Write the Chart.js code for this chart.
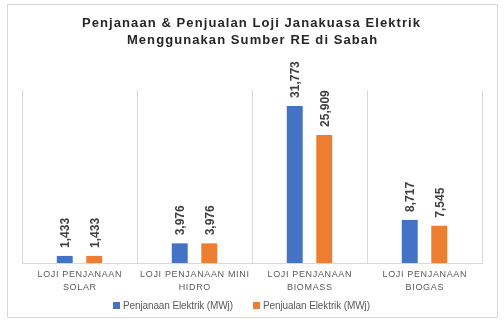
<!DOCTYPE html>
<html>
<head>
<meta charset="utf-8">
<script src="https://cdn.jsdelivr.net/npm/chart.js@4"></script>
<style>
html,body{margin:0;padding:0;background:#fff;}
canvas{display:block;}
</style>
</head>
<body>
<canvas id="c" width="504" height="325"></canvas>
<script>
const titleLines = ["Penjanaan & Penjualan Loji Janakuasa Elektrik", "Menggunakan Sumber RE di Sabah"];
const categories = [["LOJI PENJANAAN","SOLAR"],["LOJI PENJANAAN MINI","HIDRO"],["LOJI PENJANAAN","BIOMASS"],["LOJI PENJANAAN","BIOGAS"]];
const seriesNames = ["Penjanaan Elektrik (MWj)", "Penjualan Elektrik (MWj)"];
const penjanaan = [1433, 3976, 31773, 8717];
const penjualan = [1433, 3976, 25909, 7545];
const yMin = 0;
const yMax = 35000;

const colors = ["#4472C4", "#ED7D31"];

function fitSpacing(ctx, text, target) {
  ctx.letterSpacing = "0px";
  const w = ctx.measureText(text).width;
  return (target - w) / Math.max(1, text.length - 1);
}
function drawSpaced(ctx, text, cx, cy, ls) {
  ctx.letterSpacing = "0px";
  const w = ctx.measureText(text).width + ls * (text.length - 1);
  ctx.letterSpacing = ls + "px";
  ctx.textAlign = "left";
  ctx.fillText(text, cx - w / 2, cy);
  ctx.letterSpacing = "0px";
}

const decor = {
  id: "decor",
  afterDraw(chart) {
    const ctx = chart.ctx;
    const fmt = new Intl.NumberFormat("en-US");
    ctx.save();
    // border
    ctx.strokeStyle = "#d9d9d9";
    ctx.lineWidth = 1;
    ctx.strokeRect(7.5, 4.5, 490, 313);
    // title
    ctx.fillStyle = "#262626";
    ctx.textBaseline = "middle";
    ctx.font = "bold 13px 'Liberation Sans', Arial, sans-serif";
    const tls = fitSpacing(ctx, titleLines[0], 338);
    drawSpaced(ctx, titleLines[0], 251, 23, tls);
    drawSpaced(ctx, titleLines[1], 252, 40, tls);
    // x labels
    const xs = chart.scales.x;
    ctx.fillStyle = "#595959";
    ctx.font = "9px 'Liberation Sans', Arial, sans-serif";
    const xls = fitSpacing(ctx, "LOJI PENJANAAN", 84);
    categories.forEach((lines, i) => {
      const cx = xs.getPixelForValue(i);
      lines.forEach((t, j) => drawSpaced(ctx, t, cx, 275 + j * 13, xls));
    });
    // data labels
    ctx.fillStyle = "#404040";
    ctx.font = "bold 12px 'Liberation Sans', Arial, sans-serif";
    chart.data.datasets.forEach((ds, di) => {
      const meta = chart.getDatasetMeta(di);
      meta.data.forEach((bar, i) => {
        ctx.save();
        ctx.translate(bar.x + 1, bar.y - 8);
        ctx.rotate(-Math.PI / 2);
        ctx.textAlign = "left";
        ctx.textBaseline = "middle";
        ctx.fillText(fmt.format(ds.data[i]), 0, 0);
        ctx.restore();
      });
    });
    // legend
    ctx.font = "10px 'Liberation Sans', Arial, sans-serif";
    ctx.textBaseline = "middle";
    ctx.textAlign = "left";
    const legendBoxes = [113, 253];
    const legendWidths = [110, 107];
    seriesNames.forEach((name, i) => {
      const bx = legendBoxes[i];
      ctx.fillStyle = colors[i];
      ctx.fillRect(bx, 302, 7, 7);
      ctx.fillStyle = "#595959";
      const ls = fitSpacing(ctx, name, legendWidths[i]);
      ctx.letterSpacing = ls + "px";
      ctx.fillText(name, bx + 10, 306);
      ctx.letterSpacing = "0px";
    });
    ctx.restore();
  }
};

new Chart(document.getElementById("c"), {
  type: "bar",
  data: {
    labels: categories,
    datasets: [
      { label: seriesNames[0], data: penjanaan, backgroundColor: colors[0] },
      { label: seriesNames[1], data: penjualan, backgroundColor: colors[1] }
    ]
  },
  options: {
    responsive: false,
    animation: false,
    devicePixelRatio: 1,
    categoryPercentage: 0.513,
    barPercentage: 0.54,
    layout: { padding: { left: 22, right: 22, top: 90, bottom: 62 } },
    plugins: { legend: { display: false }, title: { display: false }, tooltip: { enabled: false } },
    scales: {
      x: {
        offset: true,
        grid: { display: true, offset: true, color: "#d9d9d9", drawTicks: false },
        border: { display: true, color: "#d9d9d9" },
        ticks: { display: false }
      },
      y: {
        display: false,
        min: yMin,
        max: yMax
      }
    }
  },
  plugins: [decor]
});
</script>
</body>
</html>
